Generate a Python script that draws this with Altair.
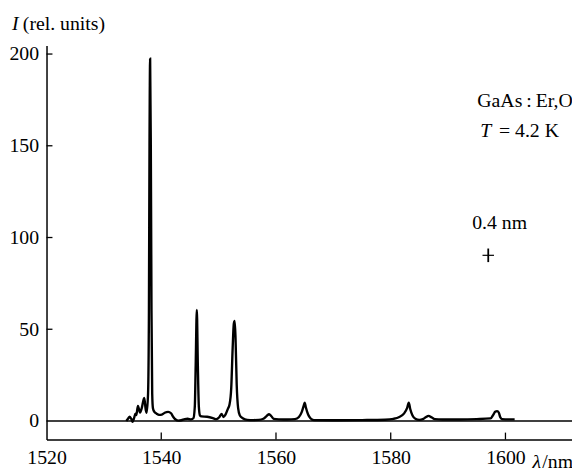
import altair as alt
import pandas as pd

# Spectrum: wavelength (nm) and intensity (rel. units)
wl = [1533.9, 1534.2, 1534.5, 1534.8, 1535.0, 1535.3, 1535.5, 1535.65, 1535.93, 1536.3,
      1536.6, 1537.03, 1537.3, 1537.45, 1537.7, 1537.85, 1537.95, 1538.06, 1538.18, 1538.3,
      1538.42, 1538.55, 1538.8, 1539.2, 1539.6, 1540.1, 1540.6, 1541.2, 1541.7, 1542.1,
      1542.5, 1543.0, 1543.5, 1544.1, 1544.6, 1545.2, 1545.6, 1545.85, 1546.0, 1546.2,
      1546.38, 1546.55, 1546.75, 1547.0, 1548.0, 1549.0, 1549.6, 1550.1, 1550.5, 1550.85,
      1551.2, 1551.6, 1551.9, 1552.2, 1552.45, 1552.65, 1552.8, 1552.95, 1553.15, 1553.4,
      1553.7, 1554.2, 1555.0, 1556.0, 1557.0, 1557.8, 1558.4, 1558.8, 1559.2, 1559.6,
      1560.5, 1562.0, 1563.3, 1564.0, 1564.5, 1564.85, 1565.0, 1565.2, 1565.6, 1566.0,
      1566.6, 1570.0, 1575.0, 1579.0, 1580.5, 1581.5, 1582.3, 1582.85, 1583.15, 1583.4,
      1583.8, 1584.3, 1585.0, 1585.6, 1586.1, 1586.6, 1587.1, 1587.7, 1589.0, 1592.0,
      1595.0, 1597.4, 1597.9, 1598.2, 1598.55, 1598.85, 1599.1, 1599.4, 1600.5, 1601.6]
inten = [0.0, 1.2, 2.3, 1.0, -0.4, 2.0, 4.0, 3.2, 8.2, 4.6,
         7.0, 12.5, 6.0, 4.5, 15, 60, 150, 197.5, 150, 60,
         15, 7, 5, 4, 3.3, 3.5, 4.5, 5.0, 4.2, 2.2,
         0.8, 0.2, 0.4, 1.0, 1.2, 0.9, 1.5, 8, 30, 60.5,
         30, 8, 3, 2.5, 2.3, 1.6, 1.0, 2.0, 3.9, 2.2,
         3.5, 6.5, 9.0, 18, 40, 53, 54.5, 45, 20, 7,
         3.0, 1.5, 0.6, 0.5, 0.6, 1.2, 2.8, 3.7, 2.6, 1.2,
         0.9, 0.8, 1.0, 2.2, 5.0, 8.5, 10, 7.5, 3.5, 1.5,
         0.5, 0.4, 0.5, 0.7, 1.2, 2.2, 4.0, 7.0, 10, 6.5,
         3.0, 1.2, 0.6, 1.0, 2.0, 2.8, 2.0, 1.0, 0.8, 0.8,
         1.0, 1.4, 3.5, 5.0, 5.4, 4.5, 2.0, 1.0, 0.9, 0.9]

x_ticks = [1520, 1540, 1560, 1580, 1600]
y_ticks = [0, 50, 100, 150, 200]
x_domain = [1520, 1611.6]
y_domain = [-10.1, 204.7]

W, H = 532, 399
FONT = "Liberation Serif"
FS = 20

spec = pd.DataFrame({"wl": wl, "I": inten})
xs = alt.Scale(domain=x_domain, nice=False, zero=False)
ys = alt.Scale(domain=y_domain, nice=False, zero=False)

xa = alt.Axis(values=x_ticks, format="d", ticks=False, grid=False, title=None,
              labelFont=FONT, labelFontSize=FS, labelColor="black",
              labelPadding=8, domainColor="black", domainWidth=1.5, labelFlush=False)
ya = alt.Axis(values=y_ticks, format="d", ticks=False, grid=False, title=None,
              labelFont=FONT, labelFontSize=FS, labelColor="black",
              labelPadding=8, domainColor="black", domainWidth=1.5, labelFlush=False)

line = alt.Chart(spec).mark_line(color="black", strokeWidth=2.4, interpolate="monotone").encode(
    x=alt.X("wl:Q", scale=xs, axis=xa),
    y=alt.Y("I:Q", scale=ys, axis=ya),
)

zero = alt.Chart(pd.DataFrame({"y": [0]})).mark_rule(color="black", strokeWidth=1.6).encode(
    y=alt.Y("y:Q", scale=ys, axis=ya))

xt = alt.Chart(pd.DataFrame({"t": x_ticks[1:]})).mark_rule(color="black", strokeWidth=1.3).encode(
    x=alt.X("t:Q", scale=xs, axis=xa), y=alt.value(H), y2=alt.value(H - 7))
yt = alt.Chart(pd.DataFrame({"t": y_ticks[1:]})).mark_rule(color="black", strokeWidth=1.3).encode(
    y=alt.Y("t:Q", scale=ys, axis=ya), x=alt.value(0), x2=alt.value(6))

# resolution cross (0.4 nm)
cross_v = alt.Chart(pd.DataFrame({"x": [1597.0], "y1": [86.6], "y2": [94.0]})).mark_rule(
    color="black", strokeWidth=1.8).encode(
    x=alt.X("x:Q", scale=xs, axis=xa), y=alt.Y("y1:Q", scale=ys, axis=ya), y2="y2:Q")
cross_h = alt.Chart(pd.DataFrame({"x1": [1596.0], "x2": [1598.0], "y": [90.3]})).mark_rule(
    color="black", strokeWidth=1.2).encode(
    x=alt.X("x1:Q", scale=xs, axis=xa), x2="x2:Q", y=alt.Y("y:Q", scale=ys, axis=ya))

def txt(s, x, y, italic=False, dx=0):
    return alt.Chart(pd.DataFrame({"x": [x], "y": [y], "s": [s]})).mark_text(
        font=FONT, fontSize=FS, color="black", align="left", baseline="middle",
        fontStyle="italic" if italic else "normal", dx=dx).encode(
        x=alt.X("x:Q", scale=xs, axis=xa), y=alt.Y("y:Q", scale=ys, axis=ya), text="s:N")

def ptxt(s, px, py, italic=False):
    return alt.Chart(pd.DataFrame({"s": [s]})).mark_text(
        font=FONT, fontSize=FS, color="black", align="left", baseline="middle",
        fontStyle="italic" if italic else "normal").encode(
        x=alt.value(px), y=alt.value(py), text="s:N")

labels = [
    txt("GaAs\u2009:\u2009Er,O", 1595.1, 174.5),
    txt("T", 1595.6, 158.0, italic=True),
    txt("= 4.2 K", 1595.6, 158.0, dx=19),
    txt("0.4 nm", 1594.2, 108.0),
    ptxt("I", -35, -22, italic=True),
    ptxt("(rel. units)", -24, -22),
    ptxt("\u03bb", 492, 23 + H, italic=True),
    ptxt("/nm", 502, 23 + H),
]

chart = alt.layer(line, zero, xt, yt, cross_v, cross_h, *labels).properties(
    width=W, height=H,
    autosize=alt.AutoSizeParams(type="none"),
    padding={"left": 39, "top": 35, "right": 0, "bottom": 30},
).configure_view(strokeWidth=0).configure_axis(
    labelFont=FONT, labelFontSize=FS
).configure_text(font=FONT)

chart.save("out.html", embed_options={"renderer": "svg", "actions": False})
